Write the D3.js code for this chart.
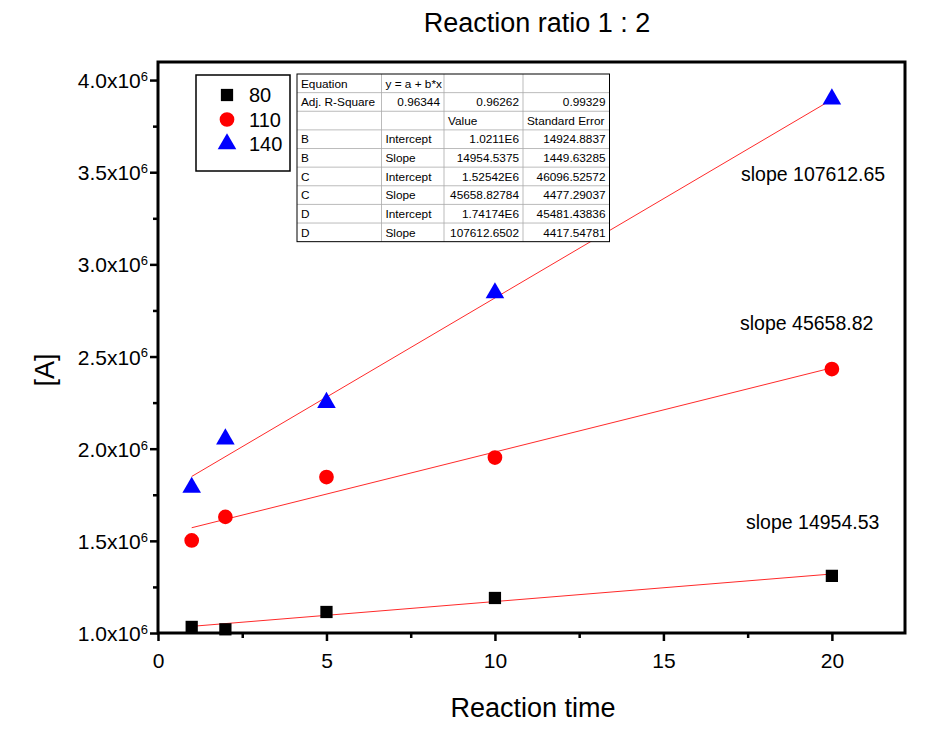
<!DOCTYPE html>
<html>
<head>
<meta charset="utf-8">
<script src="https://cdn.jsdelivr.net/npm/d3@7"></script>
<style>
  body { margin: 0; background: #fff; }
  svg text { font-family: Arial, "Liberation Sans", sans-serif; }
</style>
</head>
<body>
<svg id="chart" width="929" height="742"></svg>
<script>
// ---- data ----
const times = [1, 2, 5, 10, 20];
const series80  = [1.033e6, 1.020e6, 1.114e6, 1.190e6, 1.310e6];
const series110 = [1.502e6, 1.630e6, 1.846e6, 1.952e6, 2.432e6];
const series140 = [1.790e6, 2.052e6, 2.250e6, 2.845e6, 3.897e6];
const seriesNames = ["80", "110", "140"];
const fitIntercepts = [1.0211e6, 1.52542e6, 1.74174e6];
const fitSlopes = [14954.5375, 45658.82784, 107612.6502];
const slopeLabels = ["slope 14954.53", "slope 45658.82", "slope 107612.65"];
const xTicks = [0, 5, 10, 15, 20];
const xMinorTicks = [2.5, 7.5, 12.5, 17.5];
const yTicks = [1.0e6, 1.5e6, 2.0e6, 2.5e6, 3.0e6, 3.5e6, 4.0e6];
const yMinorTicks = [1.25e6, 1.75e6, 2.25e6, 2.75e6, 3.25e6, 3.75e6];
const yTickLabels = ["1.0", "1.5", "2.0", "2.5", "3.0", "3.5", "4.0"];
const tableRows = [
  ["Equation", "y = a + b*x", "", ""],
  ["Adj. R-Square", "0.96344", "0.96262", "0.99329"],
  ["", "", "Value", "Standard Error"],
  ["B", "Intercept", "1.0211E6", "14924.8837"],
  ["B", "Slope", "14954.5375", "1449.63285"],
  ["C", "Intercept", "1.52542E6", "46096.52572"],
  ["C", "Slope", "45658.82784", "4477.29037"],
  ["D", "Intercept", "1.74174E6", "45481.43836"],
  ["D", "Slope", "107612.6502", "4417.54781"]
];

const svg = d3.select("#chart");
const L = 158, R = 905, T = 62, B = 633;
const x = d3.scaleLinear().domain([0, 22.17]).range([L, R]);
const y = d3.scaleLinear().domain([1.0e6, 4.098e6]).range([B, T]);

// title
svg.append("text").attr("x", 537).attr("y", 32).attr("text-anchor", "middle")
  .attr("font-size", 27).text("Reaction ratio 1 : 2");

// axes
const xAxis = svg.append("g").attr("transform", `translate(0,${B})`)
  .call(d3.axisBottom(x).tickValues(xTicks).tickSize(8).tickPadding(12).tickFormat(d3.format("d")));
const xMinor = svg.append("g").attr("transform", `translate(0,${B})`)
  .call(d3.axisBottom(x).tickValues(xMinorTicks).tickSize(5).tickFormat(""));
const yAxis = svg.append("g").attr("transform", `translate(${L},0)`)
  .call(d3.axisLeft(y).tickValues(yTicks).tickSize(8).tickPadding(6).tickFormat(() => ""));
const yMinor = svg.append("g").attr("transform", `translate(${L},0)`)
  .call(d3.axisLeft(y).tickValues(yMinorTicks).tickSize(5).tickFormat(""));
[xAxis, xMinor, yAxis, yMinor].forEach(g => {
  g.select(".domain").remove();
  g.selectAll("line").attr("stroke", "#000").attr("stroke-width", 2.5);
});
xAxis.selectAll("text").attr("font-size", 21).attr("fill", "#000");

// y tick labels with superscripts
yAxis.selectAll(".tick").each(function(d, i) {
  const t = d3.select(this).append("text").attr("x", -10).attr("dy", "0.36em")
    .attr("text-anchor", "end").attr("font-size", 21).attr("fill", "#000");
  t.append("tspan").text(yTickLabels[i] + "x10");
  t.append("tspan").attr("dy", "-0.55em").attr("font-size", 13).text("6");
});

// frame
svg.append("rect").attr("x", L).attr("y", T).attr("width", R - L).attr("height", B - T)
  .attr("fill", "none").attr("stroke", "#000").attr("stroke-width", 3);

// axis titles
svg.append("text").attr("x", 533).attr("y", 717).attr("text-anchor", "middle")
  .attr("font-size", 27).text("Reaction time");
svg.append("text").attr("transform", "translate(54,370) rotate(-90)").attr("text-anchor", "middle")
  .attr("font-size", 27).text("[A]");

// fit lines
const fitG = svg.append("g");
fitIntercepts.forEach((a, i) => {
  const b = fitSlopes[i];
  fitG.append("line")
    .attr("x1", x(1)).attr("y1", y(a + b * 1))
    .attr("x2", x(20)).attr("y2", y(a + b * 20))
    .attr("stroke", "#ff2a2a").attr("stroke-width", 1);
});

// points
const sq = d3.symbol().type(d3.symbolSquare).size(150);
const ci = d3.symbol().type(d3.symbolCircle).size(170);
const tr = d3.symbol().type(d3.symbolTriangle).size(150);
const allSeries = [
  {vals: series80, sym: sq, color: "#000"},
  {vals: series110, sym: ci, color: "#ff0000"},
  {vals: series140, sym: tr, color: "#0000ff"}
];
allSeries.forEach(s => {
  svg.append("g").selectAll("path").data(s.vals).join("path")
    .attr("d", s.sym)
    .attr("transform", (d, i) => `translate(${x(times[i])},${y(d)})`)
    .attr("fill", s.color);
});

// slope labels
const slopeLabelPos = [[746, 529], [740, 330], [741, 181]];
slopeLabels.forEach((s, i) => {
  svg.append("text").attr("x", slopeLabelPos[i][0]).attr("y", slopeLabelPos[i][1])
    .attr("font-size", 19.5).text(s);
});

// legend
const lg = svg.append("g");
lg.append("rect").attr("x", 196).attr("y", 75).attr("width", 94).attr("height", 96)
  .attr("fill", "#fff").attr("stroke", "#000").attr("stroke-width", 1.5);
const legSyms = [sq, ci, tr];
const legColors = ["#000", "#ff0000", "#0000ff"];
seriesNames.forEach((n, i) => {
  const cy = 95 + i * 24.5;
  lg.append("path").attr("d", legSyms[i]).attr("transform", `translate(227,${cy})`).attr("fill", legColors[i]);
  lg.append("text").attr("x", 249).attr("y", cy + 7).attr("font-size", 20).text(n);
});

// table
const tx = [297, 381.5, 444, 523, 609.5];
const tTop = 74, rowH = 18.63;
const tb = svg.append("g");
tb.append("rect").attr("x", tx[0]).attr("y", tTop).attr("width", tx[4] - tx[0])
  .attr("height", rowH * tableRows.length).attr("fill", "#fff");
for (let r = 1; r < tableRows.length; r++) {
  tb.append("line").attr("x1", tx[0]).attr("x2", tx[4])
    .attr("y1", tTop + r * rowH).attr("y2", tTop + r * rowH)
    .attr("stroke", "#aaa").attr("stroke-width", 0.8);
}
for (let c = 1; c < 4; c++) {
  tb.append("line").attr("x1", tx[c]).attr("x2", tx[c])
    .attr("y1", tTop).attr("y2", tTop + rowH * tableRows.length)
    .attr("stroke", "#aaa").attr("stroke-width", 0.8);
}
tb.append("rect").attr("x", tx[0]).attr("y", tTop).attr("width", tx[4] - tx[0])
  .attr("height", rowH * tableRows.length).attr("fill", "none").attr("stroke", "#000").attr("stroke-width", 1);
tableRows.forEach((row, r) => {
  row.forEach((cell, c) => {
    if (!cell) return;
    const isText = c === 0 || (c === 1 && r !== 1) || (r === 2);
    const tt = tb.append("text").attr("y", tTop + r * rowH + 13.5).attr("font-size", 11.8).text(cell);
    if (isText) tt.attr("x", tx[c] + 4).attr("text-anchor", "start");
    else tt.attr("x", tx[c + 1] - 4).attr("text-anchor", "end");
  });
});
</script>
</body>
</html>
